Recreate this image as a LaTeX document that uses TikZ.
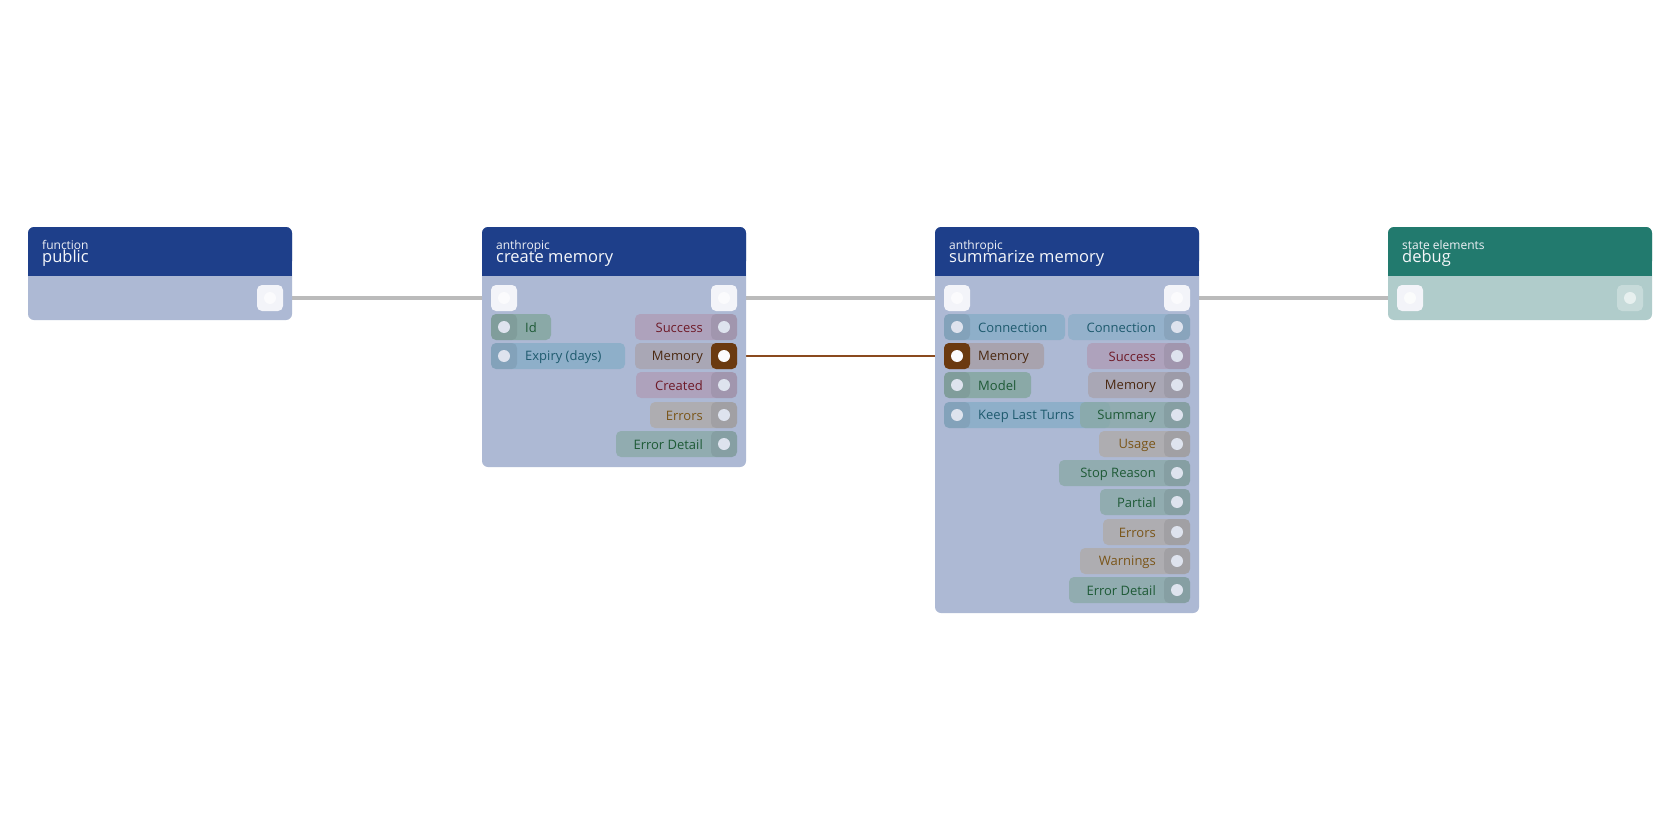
\documentclass[tikz,border=0pt]{standalone}
\usepackage{fontspec}
\setmainfont{Open Sans}
\usetikzlibrary{positioning}

\definecolor{headblue}{HTML}{1E3F8A}
\definecolor{bodyblue}{HTML}{ADB9D4}
\definecolor{headteal}{HTML}{227A6E}
\definecolor{bodyteal}{HTML}{B0CCCB}
\definecolor{pgreen}{HTML}{8AA9A7}
\definecolor{pblue}{HTML}{8EAFC9}
\definecolor{ppink}{HTML}{AF9DB7}
\definecolor{pgray}{HTML}{A8A3AE}
\definecolor{ptan}{HTML}{AFABA9}
\definecolor{tgreen}{HTML}{1E5A36}
\definecolor{tblue}{HTML}{1E5A6E}
\definecolor{tred}{HTML}{6E1A28}
\definecolor{tbrown}{HTML}{4A2810}
\definecolor{ttan}{HTML}{7A5518}
\definecolor{wire}{HTML}{BBBBBB}
\definecolor{memwire}{HTML}{8A4A1E}
\definecolor{memport}{HTML}{6B3A10}

\tikzset{
  title/.style={anchor=base west,inner sep=0,text=white!88!bodyblue,font=\fontsize{16.5}{18}\selectfont},
  kind/.style={anchor=base west,inner sep=0,text=white!80!bodyblue,font=\fontsize{12}{14}\selectfont},
  lbl/.style={inner sep=0,font=\fontsize{13}{15}\selectfont},
  dot/.style={circle,inner sep=0,minimum size=12pt,fill=white!60!bodyblue},
  exec/.style={rounded corners=5pt,fill=white!85!bodyblue},
  flow/.style={line width=4pt,wire},
}

% pins: name, x, y, width, fill, text colour, text
\newcommand{\inpin}[7]{
  \fill[#5,rounded corners=5pt] (#2,#3-13) rectangle ++(#4,26);
  \fill[black,opacity=.07,rounded corners=5pt] (#2,#3-13) rectangle ++(26,26);
  \node[dot] (#1) at (#2+13,#3) {};
  \node[lbl,anchor=west,text=#6] at (#2+34,#3+1) {#7};
}
\newcommand{\outpin}[7]{
  \fill[#5,rounded corners=5pt,fill opacity=.8] (#2-#4,#3-13) rectangle ++(#4,26);
  \fill[black,opacity=.07,rounded corners=5pt] (#2-26,#3-13) rectangle ++(26,26);
  \node[dot] (#1) at (#2-13,#3) {};
  \node[lbl,anchor=east,text=#6] at (#2-34,#3+1) {#7};
}
\newcommand{\card}[7]{% x, top, bottom, head, body, kind, title
  \fill[#5,rounded corners=6pt] (#1,#2) rectangle (#1+264,#3);
  \fill[#4,rounded corners=6pt] (#1,#2) rectangle (#1+264,#2+40);
  \fill[#4] (#1,#2+20) rectangle (#1+264,#2+49);
  \node[kind] at (#1+14,#2+22) {#6};
  \node[title] at (#1+14,#2+35) {#7};
}

\begin{document}
\begin{tikzpicture}[x=1pt,y=-1pt]
\useasboundingbox[fill=white] (0,0) rectangle (1680,840);

% wires under the cards
\draw[flow] (280,298) -- (1400,298);
\draw[memwire,line width=1.2pt] (724,356) -- (957,356);

% public
\card{28}{227}{320}{headblue}{bodyblue}{function}{public}
\fill[exec] (257,285) rectangle ++(26,26);
\node[dot,fill=white!95!bodyblue] (pubout) at (270,298) {};

% create memory
\card{482}{227}{467}{headblue}{bodyblue}{anthropic}{create memory}
\fill[exec] (491,285) rectangle ++(26,26);
\node[dot,fill=white!95!bodyblue] (cmin) at (504,298) {};
\fill[exec] (711,285) rectangle ++(26,26);
\node[dot,fill=white!95!bodyblue] (cmout) at (724,298) {};
\inpin{cmid}{491}{327}{60}{pgreen}{tgreen}{Id}
\inpin{cmexp}{491}{356}{134}{pblue}{tblue}{Expiry (days)}
\outpin{cmsucc}{737}{327}{102}{ppink}{tred}{Success}
\outpin{cmmem}{737}{356}{102}{pgray}{tbrown}{Memory}
\outpin{cmcre}{737}{385}{101}{ppink}{tred}{Created}
\outpin{cmerr}{737}{415}{87}{ptan}{ttan}{Errors}
\outpin{cmdet}{737}{444}{121}{pgreen}{tgreen}{Error Detail}
\fill[memport,rounded corners=5pt] (711,343) rectangle ++(26,26);
\node[dot,fill=white!95!bodyblue] at (cmmem) {};

% summarize memory
\card{935}{227}{613}{headblue}{bodyblue}{anthropic}{summarize memory}
\fill[exec] (944,285) rectangle ++(26,26);
\node[dot,fill=white!95!bodyblue] (smin) at (957,298) {};
\fill[exec] (1164,285) rectangle ++(26,26);
\node[dot,fill=white!95!bodyblue] (smout) at (1177,298) {};
\inpin{smcon}{944}{327}{121}{pblue}{tblue}{Connection}
\inpin{smmem}{944}{356}{100}{pgray}{tbrown}{Memory}
\inpin{smmod}{944}{385}{87}{pgreen}{tgreen}{Model}
\inpin{smkeep}{944}{415}{166}{pblue}{tblue}{Keep Last Turns}
\outpin{smconout}{1190}{327}{122}{pblue}{tblue}{Connection}
\outpin{smsucc}{1190}{356}{103}{ppink}{tred}{Success}
\outpin{smmemout}{1190}{385}{102}{pgray}{tbrown}{Memory}
\outpin{smsum}{1190}{415}{110}{pgreen}{tgreen}{Summary}
\outpin{smuse}{1190}{444}{91}{ptan}{ttan}{Usage}
\outpin{smstop}{1190}{473}{131}{pgreen}{tgreen}{Stop Reason}
\outpin{smpart}{1190}{502}{90}{pgreen}{tgreen}{Partial}
\outpin{smerr}{1190}{532}{87}{ptan}{ttan}{Errors}
\outpin{smwarn}{1190}{561}{110}{ptan}{ttan}{Warnings}
\outpin{smdet}{1190}{590}{121}{pgreen}{tgreen}{Error Detail}
\fill[memport,rounded corners=5pt] (944,343) rectangle ++(26,26);
\node[dot,fill=white!95!bodyblue] at (smmem) {};

% debug
\card{1388}{227}{320}{headteal}{bodyteal}{state elements}{debug}
\fill[exec] (1397,285) rectangle ++(26,26);
\node[dot,fill=white!95!bodyteal] (dbin) at (1410,298) {};
\fill[white,opacity=.3,rounded corners=5pt] (1617,285) rectangle ++(26,26);
\node[dot,fill=white!70!bodyteal] (dbout) at (1630,298) {};
\end{tikzpicture}
\end{document}
